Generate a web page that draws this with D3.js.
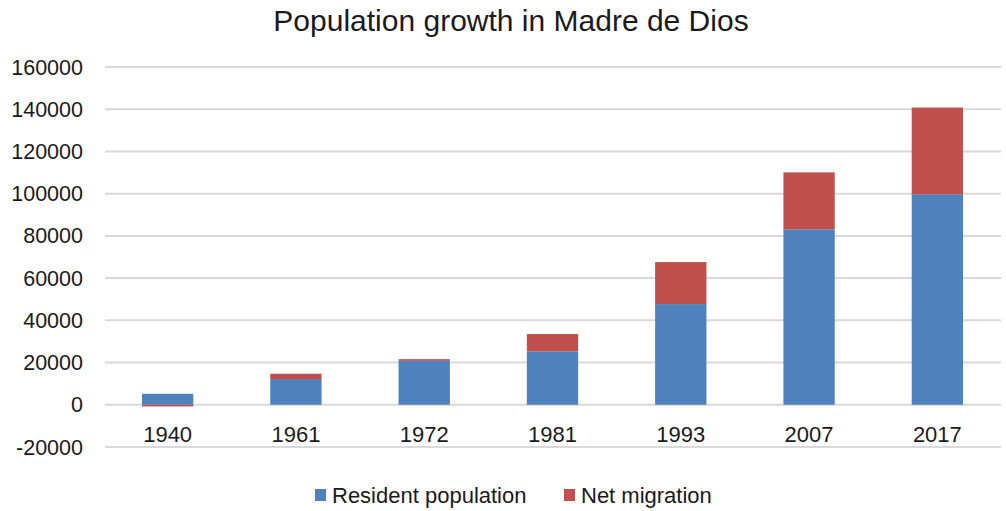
<!DOCTYPE html>
<html><head><meta charset="utf-8">
<script src="https://cdn.jsdelivr.net/npm/d3@7"></script>
<style>body{margin:0;background:#fff;} text{font-family:"Liberation Sans",Arial,Helvetica,sans-serif;fill:#1a1a1a;}</style>
</head><body>
<svg id="chart" width="1006" height="511"></svg>
<script>
const years = ["1940","1961","1972","1981","1993","2007","2017"];
const resident = [5200, 12200, 20800, 25300, 47700, 83100, 99700];
const migration = [-800, 2500, 800, 8200, 19900, 27000, 41100];
const yTicks = [-20000,0,20000,40000,60000,80000,100000,120000,140000,160000];
const seriesNames = ["Resident population","Net migration"];
const colors = ["#4F81BD","#C0504D"];

const svg = d3.select("#chart");
const y = d3.scaleLinear().domain([-20000,160000]).range([447,67]);
const x = d3.scaleBand().domain(years).range([103.5,1001.5]).paddingInner(0.6).paddingOuter(0.3);

svg.append("text").attr("x",511).attr("y",31).attr("text-anchor","middle")
  .style("font-size","30px").text("Population growth in Madre de Dios");

// gridlines
svg.append("g").selectAll("line").data(yTicks).join("line")
  .attr("x1",105).attr("x2",1001).attr("y1",d=>y(d)).attr("y2",d=>y(d))
  .attr("stroke","#d9d9d9").attr("stroke-width",2);

// y labels
svg.append("g").selectAll("text").data(yTicks).join("text")
  .attr("x",83).attr("y",d=>y(d)).attr("dy","0.35em").attr("text-anchor","end")
  .style("font-size","21.5px").text(d=>d);

// bars
const g = svg.append("g");
years.forEach((yr,i)=>{
  g.append("rect").attr("x",x(yr)).attr("width",x.bandwidth())
    .attr("y",y(resident[i])).attr("height",y(0)-y(resident[i])).attr("fill",colors[0]);
  const m = migration[i];
  if (m>=0) {
    g.append("rect").attr("x",x(yr)).attr("width",x.bandwidth())
      .attr("y",y(resident[i]+m)).attr("height",y(resident[i])-y(resident[i]+m)).attr("fill",colors[1]);
  } else {
    g.append("rect").attr("x",x(yr)).attr("width",x.bandwidth())
      .attr("y",y(0)).attr("height",y(m)-y(0)).attr("fill",colors[1]);
  }
});

// category labels
svg.append("g").selectAll("text").data(years).join("text")
  .attr("x",d=>x(d)+x.bandwidth()/2).attr("y",434).attr("dy","0.35em").attr("text-anchor","middle")
  .style("font-size","22px").text(d=>d);

// legend
const leg = [{x:315,tx:332},{x:564,tx:581}];
seriesNames.forEach((n,i)=>{
  svg.append("rect").attr("x",leg[i].x).attr("y",489).attr("width",11).attr("height",12).attr("fill",colors[i]);
  svg.append("text").attr("x",leg[i].tx).attr("y",495).attr("dy","0.35em").style("font-size","22px").text(n);
});
</script>
</body></html>
